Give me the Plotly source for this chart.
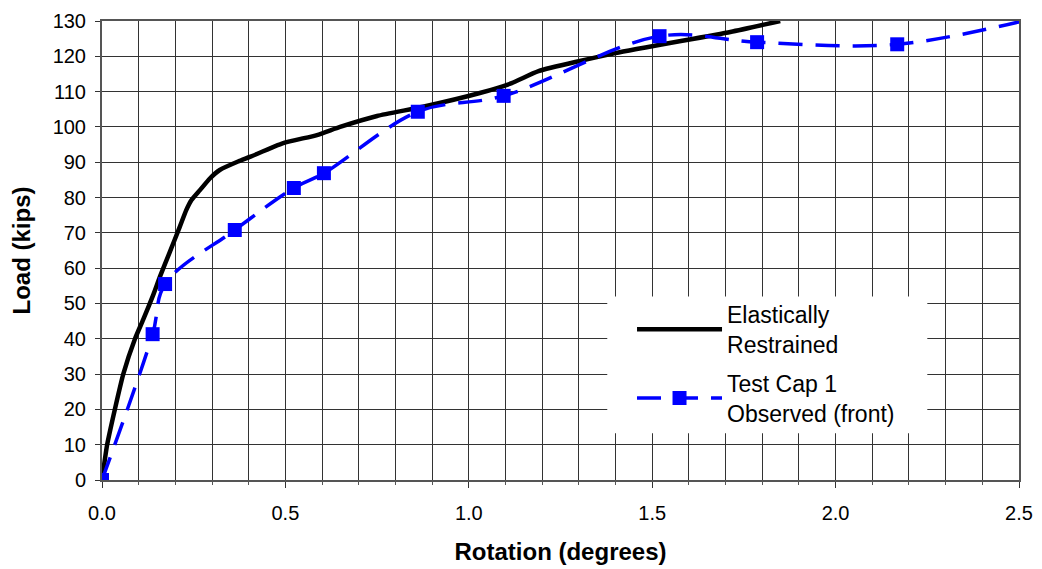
import plotly.graph_objects as go

# Elastically Restrained (analytical curve)
er_rotation = [0, 0.014, 0.035, 0.058, 0.09, 0.1125, 0.14, 0.158, 0.185, 0.212, 0.23, 0.244,
               0.267, 0.294, 0.321, 0.371, 0.403, 0.494, 0.586, 0.649, 0.75, 0.875, 1.03,
               1.117, 1.19, 1.40, 1.713, 1.849]
er_load = [0, 10, 20, 30, 40, 45.5, 52.5, 57.6, 64.6, 71.7, 76.5, 79.3,
           82.1, 85.4, 87.8, 90.2, 91.5, 95.4, 97.7, 100, 103.1, 105.7, 109.6,
           112.4, 115.8, 120.9, 126.9, 130]

# Test Cap 1 Observed (front)
tc_rotation = [0, 0.138, 0.172, 0.362, 0.523, 0.605, 0.861, 1.095, 1.52, 1.786, 2.168, 2.55]
tc_load = [0, 41.3, 55.5, 70.8, 82.7, 86.9, 104.3, 108.8, 125.7, 124.0, 123.4, 131.0]

x_ticks = [0.0, 0.5, 1.0, 1.5, 2.0, 2.5]
x_tick_labels = ["0.0", "0.5", "1.0", "1.5", "2.0", "2.5"]
y_ticks = list(range(0, 131, 10))

FONT = "Liberation Sans, Arial, sans-serif"

fig = go.Figure()
fig.add_trace(go.Scatter(
    x=er_rotation, y=er_load, mode="lines",
    name="Elastically<br>Restrained", legendgroup="er",
    line=dict(color="black", width=4.5, shape="spline", smoothing=0.5),
))
fig.add_trace(go.Scatter(
    x=tc_rotation, y=tc_load, mode="lines+markers",
    name="Test Cap 1<br>Observed (front)", legendgroup="tc",
    line=dict(color="#0000FF", width=3.5, dash="24px,13px", shape="spline", smoothing=1.0),
    marker=dict(symbol="square", size=14, color="#0000FF"),
    cliponaxis=True,
))

# white panel behind the legend (covers gridlines; no data passes through this area)
fig.add_shape(
    type="rect", xref="x domain", yref="y domain",
    x0=0.551, x1=0.9, y0=0.102, y1=0.4,
    fillcolor="white", line=dict(width=0), layer="above",
)

fig.update_layout(
    width=1042, height=569,
    margin=dict(l=102, r=23, t=21, b=89, autoexpand=False),
    paper_bgcolor="white", plot_bgcolor="white",
    font=dict(family=FONT, size=20, color="black"),
    showlegend=True,
    legend=dict(
        x=0.578, y=0.408, xanchor="left", yanchor="top",
        bgcolor="rgba(0,0,0,0)", borderwidth=0,
        font=dict(family=FONT, size=23, color="black"),
        itemwidth=85, traceorder="grouped", tracegroupgap=6,
    ),
    xaxis=dict(
        range=[0, 2.5], tickvals=x_ticks, ticktext=x_tick_labels,
        automargin=False,
        showgrid=True, gridcolor="#333333", gridwidth=1,
        minor=dict(dtick=0.1, showgrid=True, gridcolor="#333333", gridwidth=1,
                   ticks="outside", ticklen=3, tickcolor="#555555"),
        ticks="outside", ticklen=6, tickcolor="#333333",
        ticklabelstandoff=8,
        showline=True, linecolor="#555555", linewidth=2, mirror=True,
        zeroline=False,
        title=dict(text="<b>Rotation (degrees)</b>", font=dict(family=FONT, size=24), standoff=20),
        tickfont=dict(family=FONT, size=20),
    ),
    yaxis=dict(
        range=[0, 130], tickvals=y_ticks,
        automargin=False,
        showgrid=True, gridcolor="#333333", gridwidth=1,
        ticks="outside", ticklen=5, tickcolor="#333333",
        ticklabelstandoff=5,
        showline=True, linecolor="#555555", linewidth=2, mirror=True,
        zeroline=False,
        title=dict(text="<b>Load (kips)</b>", font=dict(family=FONT, size=24), standoff=15),
        tickfont=dict(family=FONT, size=20),
    ),
)

fig.write_html("out.html")
